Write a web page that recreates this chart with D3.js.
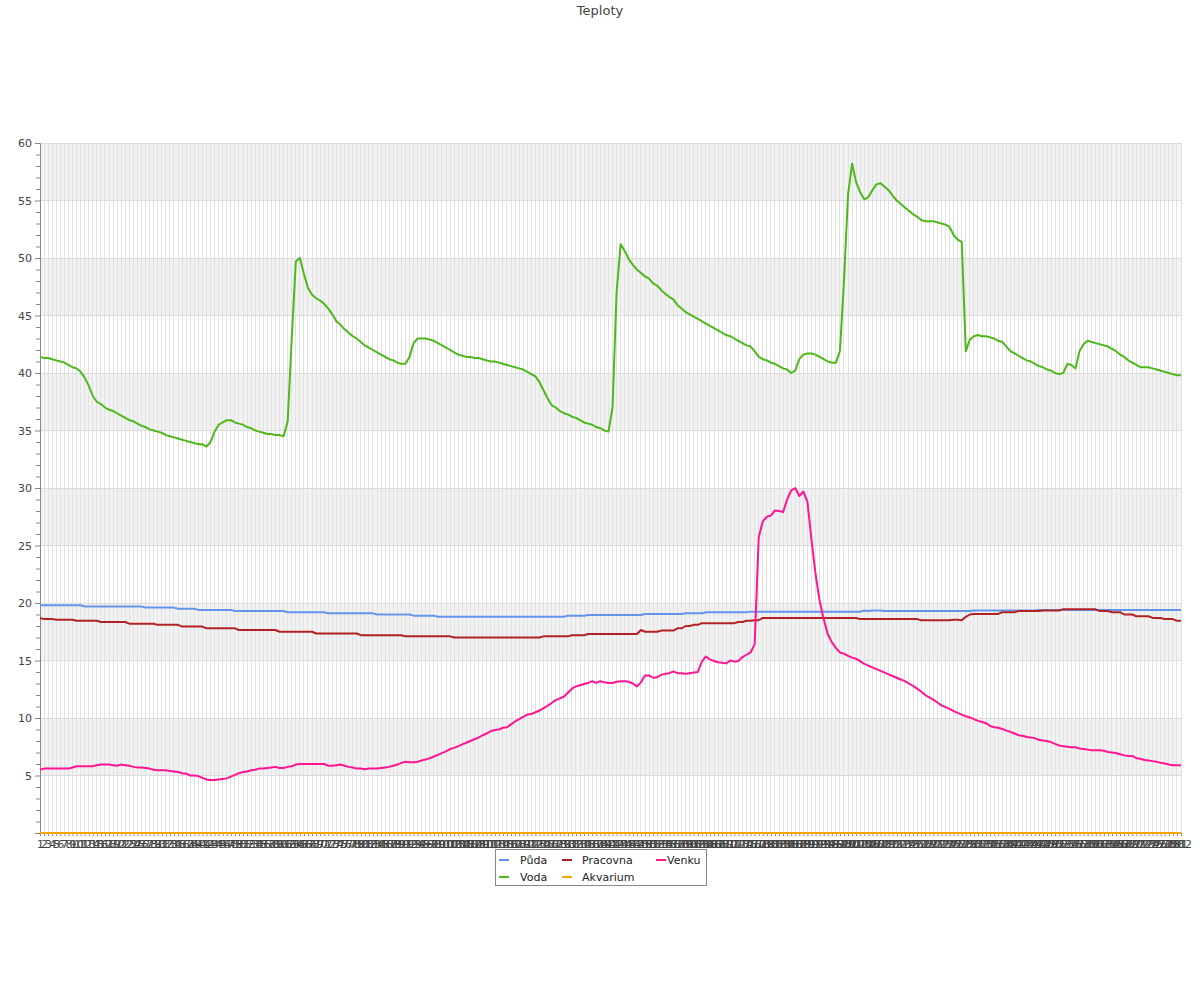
<!DOCTYPE html>
<html>
<head>
<meta charset="utf-8">
<script src="https://cdn.jsdelivr.net/npm/d3@7"></script>
<style>
body{margin:0;background:#fff;font-family:"DejaVu Sans",sans-serif;}
</style>
</head>
<body>
<svg id="chart" width="1200" height="1000"></svg>
<script>
const title = "Teploty";
const seriesNames = ["Půda","Voda","Pracovna","Akvarium","Venku"];
const seriesColors = ["#6495ed","#4cb81a","#b22222","#ffa500","#ff1493"];
const yTicks = [5,10,15,20,25,30,35,40,45,50,55,60];

const puda = [
19.8,19.8,19.8,19.8,19.8,19.8,19.8,19.8,19.8,19.8,19.8,19.7,19.7,19.7,19.7,19.7,19.7,19.7,19.7,19.7,
19.7,19.7,19.7,19.7,19.7,19.7,19.6,19.6,19.6,19.6,19.6,19.6,19.6,19.6,19.5,19.5,19.5,19.5,19.5,19.4,
19.4,19.4,19.4,19.4,19.4,19.4,19.4,19.4,19.3,19.3,19.3,19.3,19.3,19.3,19.3,19.3,19.3,19.3,19.3,19.3,
19.3,19.2,19.2,19.2,19.2,19.2,19.2,19.2,19.2,19.2,19.2,19.1,19.1,19.1,19.1,19.1,19.1,19.1,19.1,19.1,
19.1,19.1,19.1,19.0,19.0,19.0,19.0,19.0,19.0,19.0,19.0,19.0,18.9,18.9,18.9,18.9,18.9,18.9,18.8,18.8,
18.8,18.8,18.8,18.8,18.8,18.8,18.8,18.8,18.8,18.8,18.8,18.8,18.8,18.8,18.8,18.8,18.8,18.8,18.8,18.8,
18.8,18.8,18.8,18.8,18.8,18.8,18.8,18.8,18.8,18.8,18.9,18.9,18.9,18.9,18.9,18.95,18.95,18.95,18.95,18.95,
18.95,18.95,18.95,18.95,18.95,18.95,18.95,18.95,18.95,19.05,19.05,19.05,19.05,19.05,19.05,19.05,19.05,19.05,19.05,19.1,
19.1,19.1,19.1,19.1,19.2,19.2,19.2,19.2,19.2,19.2,19.2,19.2,19.2,19.2,19.2,19.25,19.25,19.25,19.25,19.25,
19.25,19.25,19.25,19.25,19.25,19.25,19.25,19.25,19.25,19.25,19.25,19.25,19.25,19.25,19.25,19.25,19.25,19.25,19.25,19.25,
19.25,19.25,19.25,19.35,19.3,19.35,19.35,19.35,19.3,19.3,19.3,19.3,19.3,19.3,19.3,19.3,19.3,19.3,19.3,19.3,
19.3,19.3,19.3,19.3,19.3,19.3,19.3,19.3,19.3,19.3,19.35,19.35,19.35,19.35,19.35,19.35,19.35,19.35,19.35,19.35,
19.35,19.35,19.35,19.35,19.35,19.35,19.4,19.4,19.4,19.4,19.4,19.4,19.4,19.4,19.4,19.4,19.4,19.4,19.4,19.4,
19.4,19.4,19.4,19.4,19.4,19.4,19.4,19.4,19.4,19.4,19.4,19.4,19.4,19.4,19.4,19.4,19.4,19.4,19.4,19.4,
19.4,19.4];

const voda = [
41.4,41.3,41.3,41.2,41.1,41.0,40.9,40.7,40.5,40.4,40.1,39.6,38.9,38.0,37.5,37.3,37.0,36.8,36.7,36.5,
36.3,36.1,35.9,35.8,35.6,35.4,35.3,35.1,35.0,34.9,34.8,34.6,34.5,34.4,34.3,34.2,34.1,34.0,33.9,33.8,
33.8,33.6,34.0,34.9,35.5,35.7,35.9,35.9,35.7,35.6,35.5,35.3,35.2,35.0,34.9,34.8,34.7,34.7,34.6,34.6,
34.5,35.8,43.0,49.7,50.0,48.6,47.4,46.8,46.5,46.3,46.0,45.6,45.1,44.5,44.2,43.8,43.5,43.2,43.0,42.7,
42.4,42.2,42.0,41.8,41.6,41.4,41.2,41.1,40.9,40.8,40.8,41.4,42.6,43.0,43.0,43.0,42.9,42.8,42.6,42.4,
42.2,42.0,41.8,41.6,41.5,41.4,41.4,41.3,41.3,41.2,41.1,41.0,41.0,40.9,40.8,40.7,40.6,40.5,40.4,40.3,
40.1,39.9,39.7,39.2,38.5,37.8,37.2,37.0,36.7,36.5,36.4,36.2,36.1,35.9,35.7,35.6,35.5,35.3,35.2,35.0,
34.9,37.0,47.0,51.2,50.6,49.9,49.4,49.0,48.7,48.4,48.2,47.8,47.6,47.2,46.9,46.6,46.4,45.9,45.6,45.3,
45.1,44.9,44.7,44.5,44.3,44.1,43.9,43.7,43.5,43.3,43.2,43.0,42.8,42.6,42.4,42.3,41.9,41.4,41.2,41.1,
40.9,40.8,40.6,40.4,40.3,40.0,40.2,41.2,41.6,41.7,41.7,41.6,41.4,41.2,41.0,40.9,40.9,41.9,48.0,55.5,
58.2,56.6,55.7,55.1,55.3,55.9,56.4,56.5,56.2,55.9,55.4,55.0,54.7,54.4,54.1,53.8,53.6,53.3,53.2,53.2,
53.2,53.1,53.0,52.9,52.7,52.0,51.6,51.4,41.9,42.9,43.2,43.3,43.2,43.2,43.1,43.0,42.8,42.7,42.3,41.9,
41.7,41.5,41.3,41.1,41.0,40.8,40.6,40.5,40.3,40.2,40.0,39.9,40.0,40.8,40.7,40.4,41.9,42.5,42.8,42.7,
42.6,42.5,42.4,42.3,42.1,41.9,41.6,41.4,41.1,40.9,40.7,40.5,40.5,40.5,40.4,40.3,40.2,40.1,40.0,39.9,
39.8,39.8];

const pracovna = [
18.7,18.6,18.6,18.6,18.55,18.55,18.55,18.55,18.55,18.45,18.45,18.45,18.45,18.45,18.45,18.35,18.35,18.35,18.35,18.35,
18.35,18.35,18.2,18.2,18.2,18.2,18.2,18.2,18.2,18.1,18.1,18.1,18.1,18.1,18.1,17.95,17.95,17.95,17.95,17.95,
17.95,17.8,17.8,17.8,17.8,17.8,17.8,17.8,17.8,17.65,17.65,17.65,17.65,17.65,17.65,17.65,17.65,17.65,17.65,17.5,
17.5,17.5,17.5,17.5,17.5,17.5,17.5,17.5,17.35,17.35,17.35,17.35,17.35,17.35,17.35,17.35,17.35,17.35,17.35,17.2,
17.2,17.2,17.2,17.2,17.2,17.2,17.2,17.2,17.2,17.2,17.1,17.1,17.1,17.1,17.1,17.1,17.1,17.1,17.1,17.1,
17.1,17.1,17.0,17.0,17.0,17.0,17.0,17.0,17.0,17.0,17.0,17.0,17.0,17.0,17.0,17.0,17.0,17.0,17.0,17.0,
17.0,17.0,17.0,17.0,17.1,17.1,17.1,17.1,17.1,17.1,17.1,17.2,17.2,17.2,17.2,17.3,17.3,17.3,17.3,17.3,
17.3,17.3,17.3,17.3,17.3,17.3,17.3,17.3,17.65,17.5,17.5,17.5,17.5,17.6,17.6,17.6,17.6,17.8,17.8,18.0,
18.0,18.1,18.1,18.25,18.25,18.25,18.25,18.25,18.25,18.25,18.25,18.25,18.35,18.35,18.45,18.45,18.5,18.5,18.7,18.7,
18.7,18.7,18.7,18.7,18.7,18.7,18.7,18.7,18.7,18.7,18.7,18.7,18.7,18.7,18.7,18.7,18.7,18.7,18.7,18.7,
18.7,18.7,18.6,18.6,18.6,18.6,18.6,18.6,18.6,18.6,18.6,18.6,18.6,18.6,18.6,18.6,18.6,18.5,18.5,18.5,
18.5,18.5,18.5,18.5,18.5,18.55,18.55,18.5,18.8,19.0,19.05,19.05,19.05,19.05,19.05,19.05,19.05,19.2,19.2,19.2,
19.2,19.3,19.3,19.3,19.3,19.3,19.3,19.35,19.35,19.35,19.35,19.35,19.45,19.45,19.45,19.45,19.45,19.45,19.45,19.45,
19.45,19.3,19.3,19.3,19.2,19.2,19.2,19.0,19.0,19.0,18.85,18.85,18.85,18.85,18.7,18.7,18.7,18.6,18.6,18.6,
18.45,18.45];

const akvarium = [
0,0,0,0,0,0,0,0,0,0,0,0,0,0,0,0,0,0,0,0,
0,0,0,0,0,0,0,0,0,0,0,0,0,0,0,0,0,0,0,0,
0,0,0,0,0,0,0,0,0,0,0,0,0,0,0,0,0,0,0,0,
0,0,0,0,0,0,0,0,0,0,0,0,0,0,0,0,0,0,0,0,
0,0,0,0,0,0,0,0,0,0,0,0,0,0,0,0,0,0,0,0,
0,0,0,0,0,0,0,0,0,0,0,0,0,0,0,0,0,0,0,0,
0,0,0,0,0,0,0,0,0,0,0,0,0,0,0,0,0,0,0,0,
0,0,0,0,0,0,0,0,0,0,0,0,0,0,0,0,0,0,0,0,
0,0,0,0,0,0,0,0,0,0,0,0,0,0,0,0,0,0,0,0,
0,0,0,0,0,0,0,0,0,0,0,0,0,0,0,0,0,0,0,0,
0,0,0,0,0,0,0,0,0,0,0,0,0,0,0,0,0,0,0,0,
0,0,0,0,0,0,0,0,0,0,0,0,0,0,0,0,0,0,0,0,
0,0,0,0,0,0,0,0,0,0,0,0,0,0,0,0,0,0,0,0,
0,0,0,0,0,0,0,0,0,0,0,0,0,0,0,0,0,0,0,0,
0,0];

const venku = [
5.5,5.6,5.6,5.6,5.6,5.6,5.6,5.6,5.7,5.8,5.8,5.8,5.8,5.8,5.9,5.95,5.95,5.95,5.9,5.85,
5.95,5.9,5.85,5.75,5.7,5.7,5.65,5.6,5.5,5.45,5.45,5.45,5.4,5.35,5.3,5.2,5.15,5.0,5.0,4.95,
4.8,4.65,4.6,4.6,4.65,4.7,4.75,4.9,5.05,5.2,5.3,5.35,5.45,5.5,5.6,5.6,5.65,5.7,5.75,5.65,
5.65,5.75,5.8,5.95,6.0,6.0,6.0,6.0,6.0,6.0,6.0,5.85,5.85,5.9,5.95,5.85,5.75,5.7,5.6,5.6,
5.55,5.6,5.6,5.6,5.65,5.7,5.75,5.85,5.95,6.1,6.2,6.15,6.15,6.2,6.3,6.4,6.5,6.65,6.8,6.95,
7.1,7.3,7.4,7.55,7.7,7.85,8.0,8.15,8.3,8.5,8.65,8.85,8.95,9.0,9.15,9.2,9.45,9.7,9.9,10.1,
10.3,10.35,10.5,10.65,10.85,11.05,11.3,11.55,11.7,11.85,12.2,12.55,12.75,12.85,12.95,13.05,13.2,13.05,13.2,13.1,
13.05,13.05,13.15,13.2,13.2,13.15,13.0,12.75,13.1,13.7,13.7,13.5,13.55,13.75,13.85,13.9,14.05,13.9,13.9,13.85,
13.9,13.95,14.0,14.9,15.35,15.1,14.95,14.85,14.8,14.75,15.0,14.9,14.95,15.3,15.5,15.7,16.4,25.7,27.1,27.5,
27.6,28.05,28.0,27.9,29.0,29.8,30.0,29.3,29.7,28.8,25.5,22.5,20.2,18.6,17.3,16.6,16.1,15.7,15.6,15.4,
15.25,15.15,14.95,14.7,14.55,14.4,14.25,14.1,13.95,13.8,13.65,13.5,13.35,13.2,13.0,12.8,12.55,12.3,12.0,11.8,
11.6,11.35,11.1,10.95,10.8,10.6,10.45,10.3,10.15,10.05,9.9,9.75,9.65,9.55,9.3,9.2,9.15,9.05,8.9,8.8,
8.65,8.5,8.45,8.35,8.3,8.25,8.1,8.05,8.0,7.9,7.75,7.6,7.55,7.5,7.45,7.45,7.35,7.3,7.25,7.2,
7.2,7.2,7.15,7.05,7.0,6.95,6.85,6.75,6.7,6.7,6.5,6.45,6.35,6.3,6.25,6.2,6.1,6.05,5.95,5.9,
5.9,5.9];

const categories = puda.map((d, i) => String(i + 1));
const seriesData = [puda, voda, pracovna, akvarium, venku];

const svg = d3.select("#chart");
const mLeft = 40, mRight = 1181, mTop = 143, mBottom = 833;

const x = d3.scalePoint().domain(categories).range([mLeft, mRight]);
const y = d3.scaleLinear().domain([0, 60]).range([mBottom, mTop]);

svg.append("text").attr("x", 600).attr("y", 15).attr("text-anchor", "middle")
  .attr("font-size", 13).attr("fill", "#444").text(title);

// bands
const bands = [5, 15, 25, 35, 45, 55];
svg.append("g").selectAll("rect").data(bands).join("rect")
  .attr("x", mLeft).attr("width", mRight - mLeft)
  .attr("y", d => y(d + 5)).attr("height", d => y(d) - y(d + 5))
  .attr("fill", "#f2f2f2");

// vertical grid
svg.append("g").selectAll("line").data(categories).join("line")
  .attr("x1", d => x(d)).attr("x2", d => x(d))
  .attr("y1", mTop).attr("y2", mBottom)
  .attr("stroke", "#e2e2e2").attr("stroke-width", 1).attr("shape-rendering", "crispEdges");

// horizontal grid
svg.append("g").selectAll("line").data(yTicks).join("line")
  .attr("x1", mLeft).attr("x2", mRight)
  .attr("y1", d => y(d)).attr("y2", d => y(d))
  .attr("stroke", "#dcdcdc").attr("stroke-width", 1).attr("shape-rendering", "crispEdges");

// y axis with minor ticks
const minor = d3.range(1, 61).filter(v => v % 5 !== 0);
const yMinor = svg.append("g").attr("transform", `translate(${mLeft},0)`)
  .call(d3.axisLeft(y).tickValues(minor).tickSize(4).tickFormat(""));
yMinor.select(".domain").remove();
yMinor.selectAll("line").attr("stroke", "#888");

const yAxis = svg.append("g").attr("transform", `translate(${mLeft},0)`)
  .call(d3.axisLeft(y).tickValues([0].concat(yTicks)).tickSize(5).tickPadding(3)
    .tickFormat(d => d === 0 ? "" : d));
yAxis.select(".domain").attr("stroke", "#888");
yAxis.selectAll("line").attr("stroke", "#888");
yAxis.selectAll("text").attr("font-size", 11).attr("fill", "#444").attr("font-family", "DejaVu Sans");

// x axis
const xAxis = svg.append("g").attr("transform", `translate(0,${mBottom})`)
  .call(d3.axisBottom(x).tickSize(3).tickPadding(4));
xAxis.select(".domain").attr("stroke", "#555");
xAxis.selectAll("line").attr("stroke", "#888");
xAxis.selectAll("text").attr("font-size", 11).attr("fill", "#444").attr("font-family", "DejaVu Sans");

// lines
const line = d3.line().x((d, i) => x(categories[i])).y(d => y(d));
const order = [0, 2, 4, 1, 3];
order.forEach(k => {
  svg.append("path").datum(seriesData[k])
    .attr("fill", "none").attr("stroke", seriesColors[k])
    .attr("stroke-width", 2).attr("stroke-linejoin", "round")
    .attr("d", line);
});

// legend
const lg = svg.append("g").attr("transform", "translate(495,849)");
lg.append("rect").attr("x", 0.5).attr("y", 0.5).attr("width", 211).attr("height", 36)
  .attr("fill", "#fff").attr("stroke", "#888");
const colLine = [4, 67, 161];
const colText = [25, 87, 172];
seriesNames.forEach((name, i) => {
  const col = Math.floor(i / 2), row = i % 2;
  const yy = 11 + row * 17;
  lg.append("line").attr("x1", colLine[col]).attr("x2", colLine[col] + 10)
    .attr("y1", yy).attr("y2", yy)
    .attr("stroke", seriesColors[i]).attr("stroke-width", 2);
  lg.append("text").attr("x", colText[col]).attr("y", yy + 4).attr("font-size", 11).attr("fill", "#222")
    .attr("font-family", "DejaVu Sans").text(name);
});
</script>
</body>
</html>
